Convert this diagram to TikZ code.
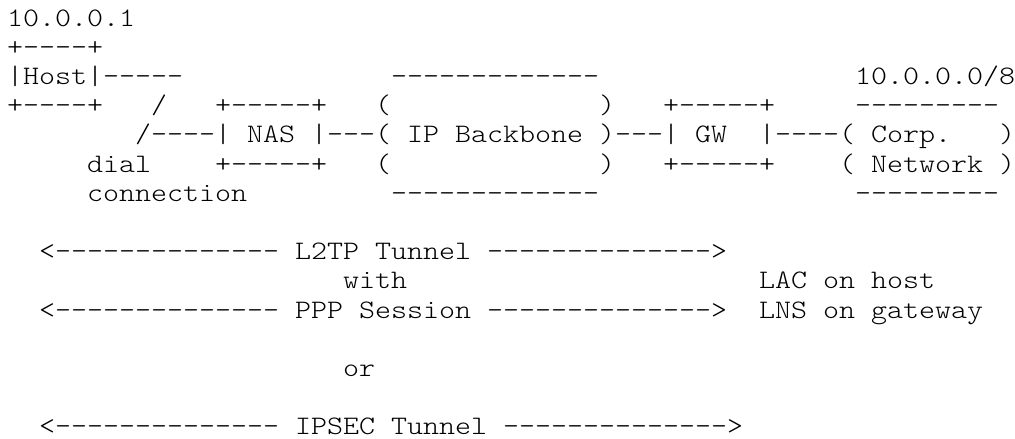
\documentclass[tikz,border=0pt]{standalone}
\usepackage{fontspec}
\setmonofont{lmmonolt10-regular.otf}[FakeStretch=1.142857]
\usetikzlibrary{positioning}
\tikzset{ascii/.style={font=\ttfamily\fontsize{26.667pt}{29.2pt}\selectfont, anchor=base west, inner sep=0pt, outer sep=0pt}}

\begin{document}
\begin{tikzpicture}[x=16pt, y=-29.2pt]

\useasboundingbox (-7pt,26pt) rectangle (1008pt,-413pt);

% host and dial connection
\node[ascii] (hostip) at (0,0) {10.0.0.1};
\node[ascii] (hosttop) at (0,1) {+----+};
\node[ascii] (host) at (0,2) {|Host|-----};
\node[ascii] (hostbot) at (0,3) {+----+};
\node[ascii] (dialup) at (9,3) {/};
\node[ascii] (dialin) at (8,4) {/----};
\node[ascii] (dial) at (5,5) {dial};
\node[ascii] (connection) at (5,6) {connection};

% NAS
\foreach \r/\n in {3/nastop, 5/nasbot}
    \node[ascii] (\n) at (13,\r) {+-----+};
\node[ascii] (nas) at (13,4) {| NAS |};
\node[ascii] (nasbb) at (20,4) {---};

% IP backbone
\foreach \r/\n in {2/bbtop, 6/bbbot}
    \node[ascii] (\n) at (24,\r) {-------------};
\foreach \r in {3,5} {
    \node[ascii] (bbl\r) at (23,\r) {(};
    \node[ascii] (bbr\r) at (37,\r) {)};
}
\node[ascii] (bb) at (23,4) {( IP Backbone )};
\node[ascii] (bbgw) at (38,4) {---};

% GW
\foreach \r/\n in {3/gwtop, 5/gwbot}
    \node[ascii] (\n) at (41,\r) {+-----+};
\node[ascii] (gw) at (41,4) {| GW~~|};
\node[ascii] (gwcorp) at (48,4) {----};

% corporate network
\node[ascii] (corpip) at (53,2) {10.0.0.0/8};
\foreach \r/\n in {3/corptop, 6/corpbot}
    \node[ascii] (\n) at (53,\r) {---------};
\node[ascii] (corp) at (52,4) {( Corp.~~~)};
\node[ascii] (network) at (52,5) {( Network )};

% tunnels
\foreach \r/\t/\n in {8/L2TP Tunnel/ltwo, 10/PPP Session/ppp} {
    \node[ascii] (\n left) at (2,\r) {<--------------};
    \node[ascii] (\n) at (18,\r) {\t};
    \node[ascii] (\n right) at (30,\r) {-------------->};
}
\node[ascii] (with) at (21,9) {with};
\node[ascii] (lac) at (47,9) {LAC on host};
\node[ascii] (lns) at (47,10) {LNS on gateway};
\node[ascii] (or) at (21,12) {or};
\node[ascii] (ipsecleft) at (2,14) {<--------------};
\node[ascii] (ipsec) at (18,14) {IPSEC Tunnel};
\node[ascii] (ipsecright) at (31,14) {-------------->};

\end{tikzpicture}
\end{document}
